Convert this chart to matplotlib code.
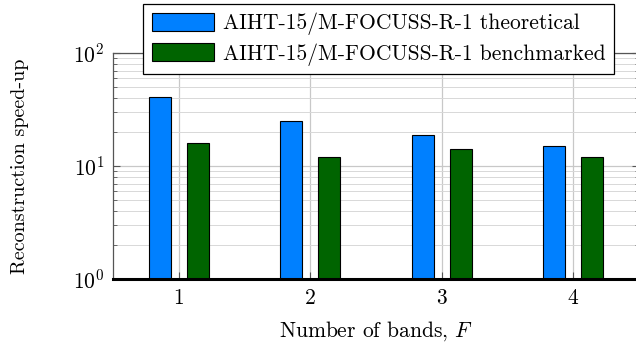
import matplotlib
matplotlib.use("Agg")
import matplotlib.pyplot as plt
import numpy as np

bands = [1, 2, 3, 4]
theoretical = [41, 25, 19, 15]
benchmarked = [16, 12, 14, 12]
series_labels = ["AIHT-15/M-FOCUSS-R-1 theoretical", "AIHT-15/M-FOCUSS-R-1 benchmarked"]

plt.rcParams['font.family'] = 'serif'
plt.rcParams['font.serif'] = ['cmr10', 'DejaVu Serif']
plt.rcParams['mathtext.fontset'] = 'cm'
plt.rcParams['axes.formatter.use_mathtext'] = True

FS = 15.5

fig = plt.figure(figsize=(6.36, 3.51), dpi=100)
ax = fig.add_axes([113/636, 1-279/351, 526/636, 226/351])

x = np.array(bands, dtype=float)
w = 0.167
ax.bar(x - 0.143, theoretical, width=w, color='#0080ff', edgecolor='black', linewidth=0.8, zorder=3, label=series_labels[0])
ax.bar(x + 0.143, benchmarked, width=w, color='#006400', edgecolor='black', linewidth=0.8, zorder=3, label=series_labels[1])

ax.set_yscale('log')
ax.set_ylim(1, 100)
ax.set_xlim(0.5, 4.5)
ax.set_xticks(bands)
ax.set_xticklabels([str(b) for b in bands])

ax.grid(True, which='major', color='#c8c8c8', linewidth=0.9, zorder=0)
ax.grid(True, which='minor', axis='y', color='#d8d8d8', linewidth=0.7, zorder=0)

ax.tick_params(axis='both', which='both', direction='in', color='#555555')
ax.tick_params(axis='y', which='major', length=5, right=True)
ax.tick_params(axis='y', which='minor', length=3, right=True)
ax.tick_params(axis='x', which='major', length=5, top=True)
ax.tick_params(axis='both', labelsize=FS)
ax.tick_params(axis='x', pad=7)
ax.tick_params(axis='y', pad=6)

for s in ['left', 'top', 'right']:
    ax.spines[s].set_color('#555555')
    ax.spines[s].set_linewidth(0.9)
ax.spines['bottom'].set_color('black')
ax.spines['bottom'].set_linewidth(2.2)
ax.spines['bottom'].set_zorder(4)

ax.set_ylabel('Reconstruction speed-up', fontsize=FS - 1, labelpad=32)
ax.set_xlabel('Number of bands, $F$', fontsize=FS, labelpad=8)

leg = fig.legend(loc='upper right', bbox_to_anchor=(614/636, 1-4/351),
                 bbox_transform=fig.transFigure, fontsize=FS, frameon=True,
                 fancybox=False, edgecolor='black', framealpha=1,
                 handlelength=2.9, handleheight=0.95, borderaxespad=0,
                 labelspacing=0.35, handletextpad=0.4, borderpad=0.4)
leg.get_frame().set_linewidth(0.9)

fig.savefig('out.png', dpi=100)
